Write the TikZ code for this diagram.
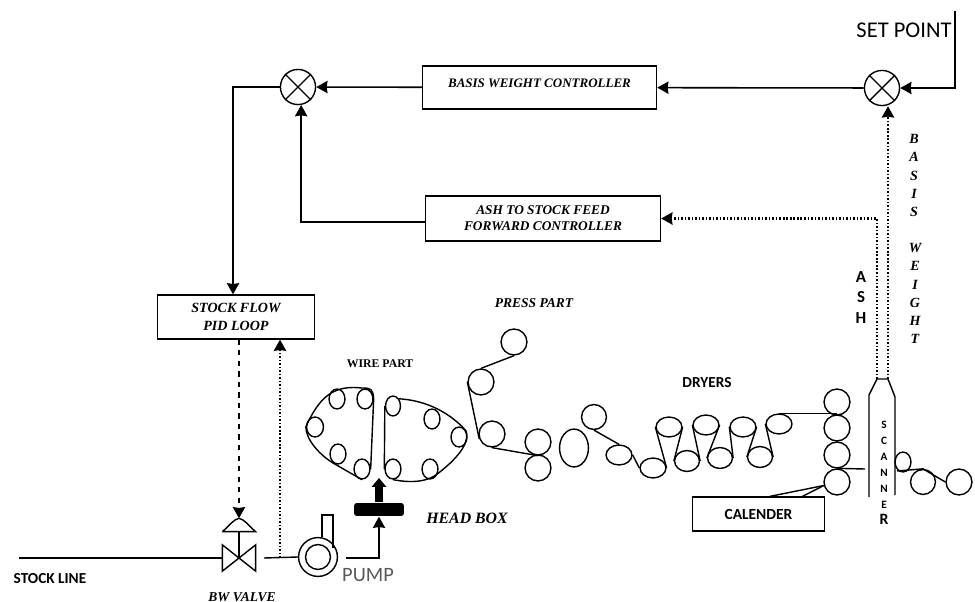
\documentclass[tikz,border=0pt]{standalone}
\usepackage{fontspec}
\setmainfont{Liberation Serif}
\newfontfamily\calibriFont{Carlito}
\usetikzlibrary{arrows.meta,positioning,calc,shapes.geometric}

\begin{document}
\begin{tikzpicture}[
            x=0.02cm,
            y=-0.02cm,
            line width=0.8pt,
            box/.style={
                    draw=black,
                    fill=white,
                    rectangle,
                    line width=0.8pt,
                    inner sep=0pt,
                    align=center,
                    font=\fontsize{7.4}{9}\selectfont\bfseries\itshape
                },
            sumJunction/.style={
                    draw=black,
                    circle,
                    inner sep=0pt,
                    minimum size=20pt
                },
            roller/.style={
                    draw=black,
                    ellipse,
                    inner sep=0pt
                },
            arrow/.style={
                    -{Stealth[length=6.4pt,width=7pt,inset=0.5pt]},
                    line width=0.9pt
                },
            dotline/.style={
                    arrow,
                    dash pattern=on 0.9pt off 1.1pt,
                    line width=1.2pt
                },
            serifLabel/.style={
                    font=\fontsize{7.7}{9}\selectfont\bfseries\itshape
                },
            sansLabel/.style={
                    font=\fontsize{8.7}{10}\selectfont\calibriFont\bfseries
                },
            plainLabel/.style={
                    font=\fontsize{12.8}{14}\selectfont\calibriFont
                }
            ]
            \useasboundingbox (0,0) rectangle (975,602);

            % Summing junctions
            \node[sumJunction] (sumLeft) at (298,87) {};
            \node[sumJunction] (sumRight) at (882,88) {};
            \draw (sumLeft.45) -- (sumLeft.225) (sumLeft.135) -- (sumLeft.315);
            \draw (sumRight.45) -- (sumRight.225) (sumRight.135) -- (sumRight.315);

            % Controllers
            \node[box, minimum width=235*0.5669pt, minimum height=43*0.5669pt] (basisCtrl) at (539.5,87.5) {\raisebox{5pt}{BASIS WEIGHT CONTROLLER}};
            \node[box, minimum width=236*0.5669pt, minimum height=45*0.5669pt, font=\fontsize{7.6}{9}\selectfont\bfseries\itshape] (ashCtrl) at (543,218.5) {ASH TO STOCK FEED\\FORWARD  CONTROLLER};
            \node[box, minimum width=158*0.5669pt, minimum height=44*0.5669pt, font=\fontsize{8}{10.6}\selectfont\itshape\bfseries] (stockFlow) at (236,317) {STOCK FLOW\\PID LOOP};

            % Valve and pump
            \node[minimum width=32*0.5669pt, minimum height=25*0.5669pt, inner sep=0pt] (valve) at (239,558) {};
            \node[minimum width=32*0.5669pt, minimum height=12*0.5669pt, inner sep=0pt] (actuator) at (239,525) {};
            \draw (valve.north west) -- (valve.south east) -- (valve.north east) -- (valve.south west) -- cycle;
            \draw (actuator.south west) -- (actuator.south east) .. controls (248,525) and (244,519) .. (actuator.north) .. controls (234,519) and (230,525) .. (actuator.south west);
            \draw (actuator.south) -- (valve.center);
            \node[draw, circle, inner sep=0pt, minimum size=39*0.5669pt] (pump) at (318,557) {};
            \node[draw, circle, inner sep=0pt, minimum size=25*0.5669pt] (pumpEye) at (318,557) {};
            \coordinate (nozzleL) at (322,515);
            \coordinate (nozzleR) at (333,515);
            \draw (nozzleL |- pump.north) -- (nozzleL) -- (nozzleR) -- (333,548);
            \node[fill=black, rounded corners=1.5pt, minimum width=50*0.5669pt, minimum height=13*0.5669pt, inner sep=0pt] (headBox) at (379,509.5) {};
            \coordinate (headTip) at (379,478);
            \coordinate (stockStart) at (19,558);
            \coordinate (valveOut) at (264,558);
            \coordinate (tapPoint) at (280,558);
            \coordinate (pumpOut) at (346,558);
            \coordinate (setPoint) at (955,11);
            \coordinate (setCorner) at (955,88);

            % Wire part, left
            \node[roller, minimum width=16*0.5669pt, minimum height=20*0.5669pt] (wireA) at (337,399) {};
            \node[roller, minimum width=16*0.5669pt, minimum height=20*0.5669pt] (wireB) at (365,399) {};
            \node[roller, minimum width=17*0.5669pt, minimum height=20*0.5669pt] (wireC) at (315,427) {};
            \node[roller, minimum width=16*0.5669pt, minimum height=20*0.5669pt] (wireD) at (338,454) {};
            \node[roller, minimum width=16*0.5669pt, minimum height=20*0.5669pt] (wireE) at (362,469) {};
            \draw (wireB.east) .. controls (373,389) and (371,388) .. (362,388) .. controls (335,385) and (320,395) .. (wireC.west) .. controls (306,440) and (320,455) .. (333,463) -- (wireE.south);
            \draw (wireB.east) -- (wireE.east);

            % Wire part, right
            \node[roller, minimum width=15*0.5669pt, minimum height=20*0.5669pt] (wireF) at (393,406) {};
            \node[roller, minimum width=16*0.5669pt, minimum height=20*0.5669pt] (wireG) at (432,419) {};
            \node[roller, minimum width=16*0.5669pt, minimum height=20*0.5669pt] (wireH) at (459,437) {};
            \node[roller, minimum width=16*0.5669pt, minimum height=20*0.5669pt] (wireI) at (393,469) {};
            \node[roller, minimum width=16*0.5669pt, minimum height=20*0.5669pt] (wireJ) at (430,469) {};
            \draw (wireF.50) .. controls (420,400) and (445,408) .. (wireH.45) .. controls (470,440) and (462,455) .. (wireJ.330) .. controls (425,484) and (405,482) .. (wireI.south);
            \draw (wireF.west) -- (wireI.west);

            % Press part
            \node[roller, minimum size=26*0.5669pt] (pressA) at (514,342) {};
            \node[roller, minimum size=26*0.5669pt] (pressB) at (481,382) {};
            \node[roller, minimum size=26*0.5669pt] (pressC) at (492,434) {};
            \node[roller, minimum size=26*0.5669pt] (pressD) at (538,442) {};
            \node[roller, minimum size=26*0.5669pt] (pressE) at (538,468) {};
            \draw (pressA.south) -- (pressB.north);
            \draw (pressB.west) -- (pressC.200);
            \draw (pressC.south) -- (pressD.south);
            \node[roller, minimum width=29*0.5669pt, minimum height=38*0.5669pt] (bigRoll) at (574,448) {};

            % Dryers
            \node[roller, minimum size=25*0.5669pt] (dryerA) at (594,417) {};
            \node[roller, minimum width=26*0.5669pt, minimum height=20*0.5669pt] (dryerB) at (619,455) {};
            \node[roller, minimum width=26*0.5669pt, minimum height=20*0.5669pt] (dryerC) at (653,468) {};
            \node[roller, minimum width=26*0.5669pt, minimum height=20*0.5669pt] (topA) at (669,427) {};
            \node[roller, minimum width=26*0.5669pt, minimum height=20*0.5669pt] (topB) at (706,425) {};
            \node[roller, minimum width=26*0.5669pt, minimum height=20*0.5669pt] (topC) at (743,427) {};
            \node[roller, minimum width=26*0.5669pt, minimum height=20*0.5669pt] (topD) at (779,424) {};
            \node[roller, minimum width=25*0.5669pt, minimum height=21*0.5669pt] (lowA) at (687,461) {};
            \node[roller, minimum width=25*0.5669pt, minimum height=21*0.5669pt] (lowB) at (720,458) {};
            \node[roller, minimum width=25*0.5669pt, minimum height=21*0.5669pt] (lowC) at (760,457) {};
            \draw (dryerA.south) -- (dryerB.north);
            \draw (dryerB.east) -- (dryerC.west);
            \draw (dryerC.east) -- (topA.west);
            \draw (topA.east) -- (lowA.west);
            \draw (lowA.east) -- (topB.west);
            \draw (topB.east) -- (lowB.west);
            \draw (lowB.east) -- (topC.west);
            \draw (topC.east) -- (lowC.west);
            \draw (lowC.east) -- (topD.west);

            % Calender stack
            \node[roller, minimum size=26*0.5669pt] (stackA) at (837,402) {};
            \node[roller, minimum size=26*0.5669pt] (stackB) at (837,428) {};
            \node[roller, minimum size=26*0.5669pt] (stackC) at (837,455) {};
            \node[roller, minimum size=26*0.5669pt] (stackD) at (837,482) {};
            \draw (topD.north) -- (topD.north -| stackA.south);
            \node[box, minimum width=133*0.5669pt, minimum height=34*0.5669pt, font=\fontsize{8.8}{10}\selectfont\calibriFont\bfseries] (calender) at (758.5,514) {CALENDER};
            \draw ([xshift=6.5pt]calender.north) -- (stackD.195);
            \draw ([xshift=25pt]calender.north) -- (stackD.195);

            % Scanner
            \coordinate (scanBaseL) at (869,497);
            \coordinate (scanBaseR) at (895,495);
            \coordinate (scanTopL) at (877,379);
            \coordinate (scanTopR) at (888,379);
            \coordinate (stackOut) at (865,469);
            \draw (scanBaseL) -- (869,395) -- (scanTopL) -- (scanTopR) -- (895,397) -- (scanBaseR);
            \draw (stackD.north) -- (stackOut);

            % Reel rollers
            \node[roller, minimum width=16*0.5669pt, minimum height=20*0.5669pt] (reelA) at (903,462) {};
            \node[roller, minimum size=25*0.5669pt] (reelB) at (923,482) {};
            \node[roller, minimum size=26*0.5669pt] (reelC) at (959,482) {};
            \coordinate (reelStart) at (897,471);
            \draw (reelStart) -- (reelB.north) -- (reelC.west);

            % --- CONEXIONES ---
            \draw[arrow] (setPoint) -- (setCorner) -- (sumRight.east);
            \draw[arrow] (sumRight) -- (basisCtrl);
            \draw[arrow] (basisCtrl) -- (sumLeft);
            \draw[arrow] ([yshift=-2pt]ashCtrl.west) -| (sumLeft.280);
            \draw[arrow] (sumLeft.west) -| ([xshift=-1.7pt]stockFlow.north);
            \draw[arrow, dashed, line width=1.1pt] (actuator.north |- stockFlow.south) -- (actuator.north);
            \draw[dotline] (tapPoint) -- (tapPoint |- stockFlow.south);
            \draw[dotline] (scanTopL) |- (ashCtrl.east);
            \draw[dotline] (scanTopR) -- (scanTopR |- sumRight.south);
            \draw (stockStart) -- (valve.west);
            \draw (valveOut) -- (pump.west);
            \draw[arrow] (pumpOut) -| (headBox.south);
            \draw[-{Stealth[length=5pt,width=8pt,inset=0pt]}, line width=4.4pt] (headBox.north) -- (headTip);

            % Labels
            \node[sansLabel] (stockLineLbl) at (50,579) {STOCK LINE};
            \node[serifLabel] (bwValveLbl) at (242,597) {BW VALVE};
            \node[text=black!65, font=\fontsize{11.6}{13}\selectfont\calibriFont] (pumpLbl) at (368,575) {PUMP};
            \node[font=\fontsize{6.7}{8}\selectfont\bfseries] (wireLbl) at (380,364) {WIRE PART};
            \node[font=\fontsize{9}{11}\selectfont\bfseries\itshape] (headLbl) at (467,518) {HEAD BOX};
            \node[serifLabel] (pressLbl) at (534,303) {PRESS PART};
            \node[sansLabel] (dryersLbl) at (707,383) {DRYERS};
            \node[plainLabel] (setPointLbl) at (904,30) {SET POINT};
            \node[align=center, font=\fontsize{9.6}{11.6}\selectfont\calibriFont\bfseries] (ashLbl) at (861,297.5) {A\\S\\H};
            \node[align=center, font=\fontsize{8}{10.3}\selectfont\bfseries\itshape] (basisLbl) at (914,175.5) {B\\A\\S\\I\\S};
            \node[align=center, font=\fontsize{8}{10.3}\selectfont\bfseries\itshape] (weightLbl) at (915,293.5) {W\\E\\I\\G\\H\\T};
            \node[align=center, font=\fontsize{6.4}{9.1}\selectfont\calibriFont\bfseries] (scannerLbl) at (884,473) {S\\C\\A\\N\\N\\E\\{\fontsize{9}{9}\selectfont R}};

        \end{tikzpicture}
\end{document}
